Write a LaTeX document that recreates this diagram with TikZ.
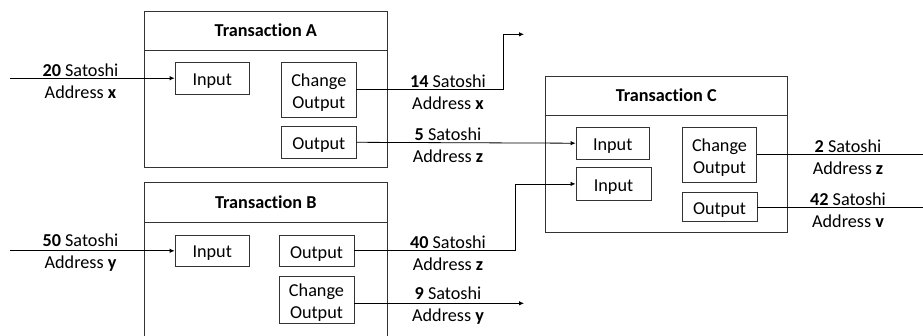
\documentclass[tikz,border=0pt]{standalone}
\usepackage{fontspec}
\setmainfont{Carlito}[Ligatures={NoCommon,NoContextual}]
\usetikzlibrary{arrows.meta}
\begin{document}
\begin{tikzpicture}[x=1pt,y=-1pt,
  every node/.style={font=\fontsize{18.2}{22}\selectfont, inner sep=0pt},
  frame/.style={draw=black!80, line width=0.9pt, rectangle},
  headline/.style={draw=black!80, line width=0.9pt},
  title/.style={font=\fontsize{18.2}{22}\selectfont\bfseries},
  part/.style={draw=black!80, line width=0.9pt, rectangle},
  ptext/.style={align=center, yshift=-2.8pt},
  amount/.style={align=center},
  link/.style={draw=black, line width=0.8pt},
  arr/.style={link, -{Latex[length=5pt,width=4.5pt]}}
]
\useasboundingbox (0,0) rectangle (923,335);
\clip (0,0) rectangle (923,335);

% transaction frames with their header strips
\node[frame, minimum width=243pt, minimum height=156.3pt] (txA) at (265.8,89.2) {};
\draw[headline] (txA.west |- 0,50.7) -- (txA.east |- 0,50.7);
\node[title] (tA) at (265.8,30.5) {Transaction A};

\node[frame, minimum width=243pt, minimum height=170pt] (txB) at (265.8,267.7) {};
\draw[headline] (txB.west |- 0,222.3) -- (txB.east |- 0,222.3);
\node[title] (tB) at (265.8,202) {Transaction B};

\node[frame, minimum width=242.3pt, minimum height=156.3pt] (txC) at (666.2,154.2) {};
\draw[headline] (txC.west |- 0,115.3) -- (txC.east |- 0,115.3);
\node[title] (tC) at (666.2,95) {Transaction C};

% inputs and outputs
\node[part, minimum width=74.3pt, minimum height=31.7pt, label={[ptext]center:Input}] (inA) at (212.2,78.2) {};
\node[part, minimum width=74.3pt, minimum height=55pt, label={[ptext]center:Change\\Output}] (chA) at (318.8,89.8) {};
\node[part, minimum width=74.3pt, minimum height=31.3pt, label={[ptext]center:Output}] (outA) at (318.8,142.3) {};

\node[part, minimum width=74.3pt, minimum height=31.7pt, label={[ptext]center:Input}] (inB) at (212.2,250.8) {};
\node[part, minimum width=75pt, minimum height=31.7pt, label={[ptext]center:Output}] (outB) at (316.5,250.8) {};
\node[part, minimum width=75pt, minimum height=47.3pt, label={[ptext]center:Change\\Output}] (chB) at (316.5,299.7) {};

\node[part, minimum width=73.3pt, minimum height=31.7pt, label={[ptext]center:Input}] (inC1) at (612.7,143.2) {};
\node[part, minimum width=75pt, minimum height=32.3pt, label={[ptext]center:Input}] (inC2) at (613.5,183.9) {};
\node[part, minimum width=74.4pt, minimum height=55pt, label={[ptext]center:Change\\Output}] (chC) at (719.5,154.8) {};
\node[part, minimum width=75pt, minimum height=29pt, label={[ptext]center:Output}] (outC) at (719.5,207.2) {};

% free ends of the connectors
\coordinate (srcA) at (10,78.2);
\coordinate (srcB) at (10,250.8);
\coordinate (upA) at (524,34.3);
\coordinate (dnB) at (524,303.3);
\coordinate (endC1) at (923,154.8);
\coordinate (endC2) at (923,207.2);

% connectors
\draw[arr] (srcA) -- (inA.west);
\draw[arr] (chA.east) -- (503.3,89.8) -- (503.3,34.3) -- (upA);
\draw[arr] (outA.east) -- (inC1.west);
\draw[arr] (srcB) -- (inB.west);
\draw[arr] (outB.east) -- (515.7,250.8) -- (515.7,183.9) -- (inC2.west);
\draw[arr] (chB.east |- dnB) -- (dnB);
\draw[link] (chC.east) -- (endC1);
\draw[link] (outC.east) -- (endC2);

% amounts and addresses
\node[amount] (lA) at (80.5,81) {\textbf{20} Satoshi\\Address \textbf{x}};
\node[amount] (lB) at (80.5,253) {\textbf{50} Satoshi\\Address \textbf{y}};
\node[amount] (lAch) at (448,92) {\textbf{14} Satoshi\\Address \textbf{x}};
\node[amount] (lAout) at (448,145) {\textbf{5} Satoshi\\Address \textbf{z}};
\node[amount] (lBout) at (448,253) {\textbf{40} Satoshi\\Address \textbf{z}};
\node[amount] (lBch) at (448,305.5) {\textbf{9} Satoshi\\Address \textbf{y}};
\node[amount] (lCch) at (848,157) {\textbf{2} Satoshi\\Address \textbf{z}};
\node[amount] (lCout) at (848,210.5) {\textbf{42} Satoshi\\Address \textbf{v}};
\end{tikzpicture}
\end{document}
